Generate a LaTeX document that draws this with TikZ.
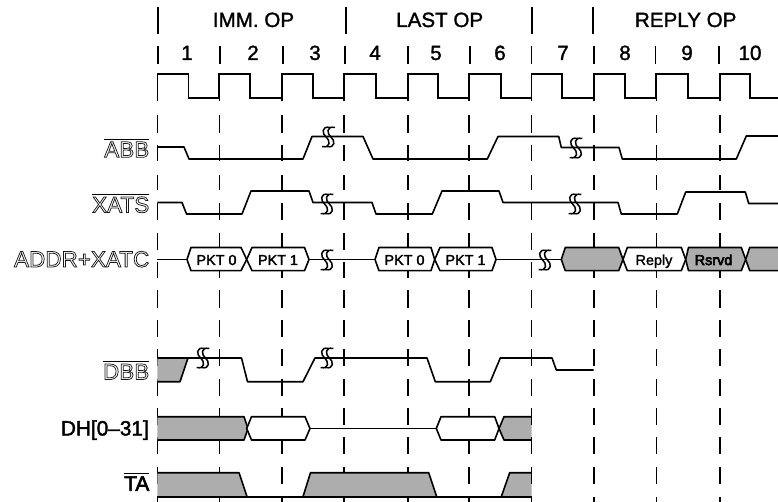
\documentclass[tikz,border=0pt]{standalone}
\usepackage{fontspec}
\setmainfont{Liberation Sans}
\newcommand\ovl[1]{\leavevmode\vbox{\hrule height 1.2pt \kern 2pt \hbox{#1}}}
\newcommand\hollow[1]{\special{pdf:code q 1 Tr 0.75 w 0.1 G}#1\special{pdf:code Q}}
\newcommand\heavy[2]{\special{pdf:code q 2 Tr #1 w 0 G}#2\special{pdf:code Q}}
\definecolor{dith}{gray}{0.68}
\tikzset{
  sig/.style={line width=1.6pt,line join=round},
  tickln/.style={line width=1.6pt},
  hexw/.style={line width=1.6pt,line join=round,fill=white},
  hexg/.style={line width=1.6pt,line join=round,fill=dith},
  phase/.style={font=\fontsize{20.6}{20}\selectfont,anchor=base},
  num/.style={font=\fontsize{20.6}{20}\selectfont,anchor=base},
  lab/.style={font=\fontsize{22.5}{22}\selectfont,anchor=base east,inner sep=0pt},
  labk/.style={font=\fontsize{20.8}{22}\selectfont,anchor=base east,inner sep=0pt},
  pkt/.style={font=\fontsize{14.4}{15}\selectfont,anchor=base,inner sep=0pt},
}
% hexagon: tipL, topL, topR, tipR, style
\newcommand\hexa[5]{\path[#5] (#1,259.5) -- (#2,247.5) -- (#3,247.5) -- (#4,259.5) -- (#3,270.7) -- (#2,270.7) -- cycle;}
\newcommand\brk[2]{%
  \foreach \o in {-2.4,2.4}{
    \draw[line width=1.5pt] ({#1+\o+4},{#2-9.5}) .. controls ({#1+\o-5},{#2-11.5}) and ({#1+\o-4},{#2-3}) .. ({#1+\o},{#2}) .. controls ({#1+\o+4},{#2+3}) and ({#1+\o+5},{#2+11.5}) .. ({#1+\o-4},{#2+9.5});
  }}
\begin{document}
\begin{tikzpicture}[x=1pt,y=-1pt]
\useasboundingbox (0,0) rectangle (778,502);
% phase bars
\foreach \x in {158,345.7,532,593}{\draw[tickln] (\x,7.3) -- (\x,34.3);}
% cycle ticks
\foreach \x in {158,220,283,345,407.7,470,531.5,594,655.5,719}{\draw[tickln] (\x,45.7) -- (\x,63.7);}
% dashed columns
\foreach \x in {157.4,219.3,281.7,343.8,407.7,469,531.5,593.7,656.3,719.7}{
  \draw[tickln] (\x,74) -- (\x,101);
  \foreach \a/\b in {115/133,145/161,175/190,203/220,233/250,262/278,290/308,320/337,349/366,379/396,408/425,437/454,467/484,497/502}{
    \draw[tickln] (\x,\a) -- (\x,\b);
  }
}
% clock
\draw[line width=1.8pt,line join=miter] (157.4,98.3) -- (157.4,74) -- (188.5,74) -- (188.5,98.3) -- (219.3,98.3)
  -- (219.3,74) -- (250,74) -- (250,98.3) -- (281.7,98.3)
  -- (281.7,74) -- (313,74) -- (313,98.3) -- (343.8,98.3)
  -- (343.8,74) -- (375.7,74) -- (375.7,98.3) -- (407.7,98.3)
  -- (407.7,74) -- (438,74) -- (438,98.3) -- (469,98.3)
  -- (469,74) -- (500.7,74) -- (500.7,98.3) -- (531.5,98.3)
  -- (531.5,74) -- (562,74) -- (562,98.3) -- (593.7,98.3)
  -- (593.7,74) -- (625.3,74) -- (625.3,98.3) -- (656.3,98.3)
  -- (656.3,74) -- (688,74) -- (688,98.3) -- (719.7,98.3)
  -- (719.7,74) -- (750.3,74) -- (750.3,98.3) -- (778,98.3);
% ABB
\draw[sig] (157.4,147) -- (184,147) -- (189,159) -- (303,159) -- (312,136.5) -- (363,136.5) -- (373,159) -- (487.3,159) -- (498,136.5) -- (558.7,136.5) -- (561.3,147.5) -- (619,147.5) -- (622.3,159) -- (736.3,159) -- (746.3,136) -- (778,136);
% XATS
\draw[sig] (157.4,202.5) -- (182,202.5) -- (186.5,214) -- (242,214) -- (251,191) -- (309,191) -- (313,202.5) -- (372,202.5) -- (376,214) -- (432.3,214) -- (442,191) -- (499,191) -- (503,202.5) -- (618,202.5) -- (621.3,214) -- (677.3,214) -- (685.7,192) -- (745.3,192) -- (748.7,203.5) -- (778,203.5);
% ADDR+XATC
\draw[sig] (157.4,259.5) -- (187,259.5) (309,259.5) -- (375,259.5) (496,259.5) -- (561.3,259.5);
\hexa{187}{191}{241}{246.7}{draw,hexw}
\hexa{246.7}{252}{304.5}{309}{draw,hexw}
\hexa{375}{379}{431}{434.7}{draw,hexw}
\hexa{434.7}{440}{492}{496}{draw,hexw}
\hexa{561.3}{565.3}{618.7}{623}{draw,hexg}
\hexa{623}{627.3}{681.3}{685.7}{draw,hexw}
\hexa{685.7}{688.5}{741.3}{745.7}{draw,hexg}
\path[hexg] (778,270.7) -- (749.7,270.7) -- (745.7,259.5) -- (749.7,247.5) -- (778,247.5);
\draw[sig] (778,270.7) -- (749.7,270.7) -- (745.7,259.5) -- (749.7,247.5) -- (778,247.5);
% DBB
\fill[dith] (157.4,358) -- (188,358) -- (180,381.7) -- (157.4,381.7) -- cycle;
\draw[sig] (157.4,381.7) -- (180,381.7) -- (188,358);
\draw[sig] (157.4,358) -- (241.5,358) -- (247.5,381.7) -- (303,381.7) -- (315,358) -- (427,358) -- (435.3,381.7) -- (490.3,381.7) -- (500.3,358) -- (552,358) -- (556.3,370) -- (593.7,370);
% DH
\fill[dith] (157.4,416.7) -- (244,416.7) -- (248,428.5) -- (244,440) -- (157.4,440) -- cycle;
\draw[sig] (157.4,416.7) -- (244,416.7) -- (248,428.5) -- (244,440) -- (157.4,440);
\path[draw,hexw] (246.7,428.5) -- (251.5,416.7) -- (305,416.7) -- (310,428.5) -- (305,440) -- (251.5,440) -- cycle;
\draw[sig] (310,428.5) -- (436.3,428.5);
\path[draw,hexw] (436.3,428.5) -- (441,416.7) -- (494.7,416.7) -- (499,428.5) -- (494.7,440) -- (441,440) -- cycle;
\fill[dith] (531.5,416.7) -- (504,416.7) -- (499,428.5) -- (504,440) -- (531.5,440) -- cycle;
\draw[sig] (531.5,416.7) -- (504,416.7) -- (499,428.5) -- (504,440) -- (531.5,440);
\draw[tickln] (531.5,408) -- (531.5,425) (531.5,437) -- (531.5,454);
% TA
\fill[dith] (157.4,472.7) -- (239,472.7) -- (247,496.7) -- (157.4,496.7) -- cycle;
\fill[dith] (303,496.7) -- (310.5,472.7) -- (428.7,472.7) -- (436.7,496.7) -- cycle;
\fill[dith] (501.3,496.7) -- (509.7,472.7) -- (531.5,472.7) -- (531.5,496.7) -- cycle;
\draw[sig] (157.4,472.7) -- (239,472.7) -- (247,496.7);
\draw[sig] (303,496.7) -- (310.5,472.7) -- (428.7,472.7) -- (436.7,496.7);
\draw[sig] (501.3,496.7) -- (509.7,472.7) -- (531.5,472.7);
\draw[sig] (157.4,496.7) -- (531.5,496.7);
\draw[tickln] (531.5,467) -- (531.5,484);
% breaks
\brk{328.5}{137}\brk{576}{148}\brk{327}{204}\brk{575}{204}\brk{327}{260}\brk{545}{260}\brk{203}{358}\brk{327}{358}
% headers
\node[phase] (immop) at (253.5,27) {\heavy{0.3}{IMM. OP}};
\node[phase] (lastop) at (439.7,27) {\heavy{0.3}{LAST OP}};
\node[phase] (replyop) at (685.7,27) {\heavy{0.3}{REPLY OP}};
\foreach \n/\x in {1/187,2/253,3/315,4/375,5/436,6/500,7/563,8/625,9/687,10/750}{
  \node[num] (n\n) at (\x,60) {\heavy{0.3}{\n}};
}
% signal labels
\node[lab] (labb) at (149.5,157.3) {\ovl{\hollow{ABB}}};
\node[lab] (lxats) at (149.5,212.5) {\ovl{\hollow{XATS}}};
\node[lab] (laddr) at (149.5,267) {\hollow{ADDR+XATC}};
\node[lab] (ldbb) at (149.5,379.5) {\ovl{\hollow{DBB}}};
\node[labk] (ldh) at (149,435.5) {\heavy{0.4}{DH[0–31]}};
\node[labk] (lta) at (149.5,490.7) {\ovl{\heavy{0.6}{TA}}};
% packet labels
\node[pkt] (p1) at (216.5,265) {\heavy{0.3}{PKT 0}};
\node[pkt] (p2) at (278,265) {\heavy{0.3}{PKT 1}};
\node[pkt] (p3) at (404.5,265) {\heavy{0.3}{PKT 0}};
\node[pkt] (p4) at (465.5,265) {\heavy{0.3}{PKT 1}};
\node[pkt] (p5) at (654,265) {\heavy{0.2}{Reply}};
\node[pkt] (p6) at (713.5,265) {\heavy{0.6}{Rsrvd}};
\end{tikzpicture}
\end{document}
